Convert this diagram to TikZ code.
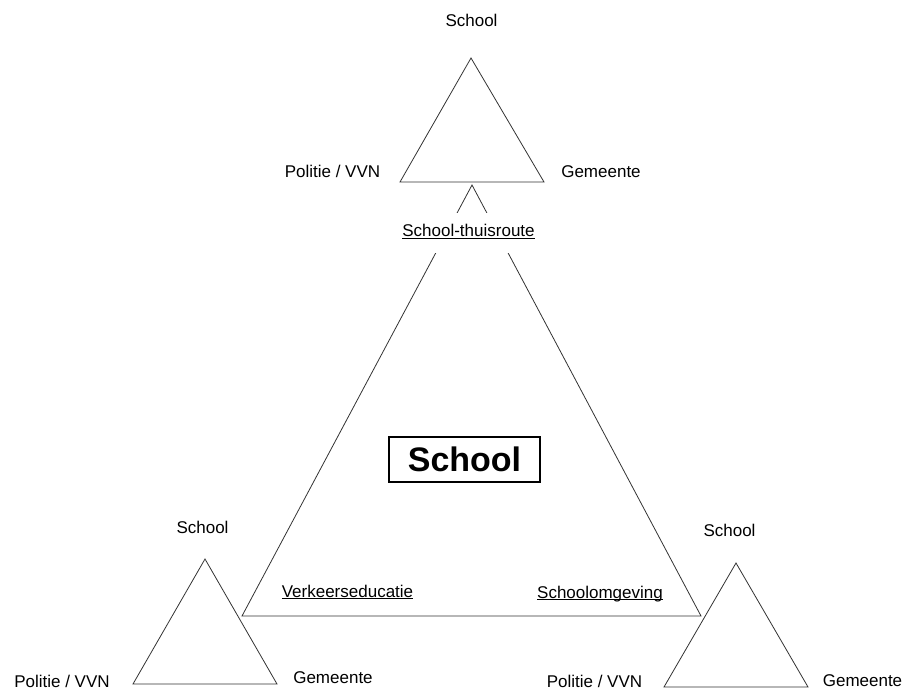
\documentclass[tikz,border=0pt]{standalone}
\usepackage{fontspec}
\setmainfont{Liberation Sans}
\newcommand\ulbl[1]{\setbox0\hbox{#1}\rlap{\rule[-2.3pt]{\wd0}{0.9pt}}\box0}
\begin{document}
\begin{tikzpicture}[x=1pt,y=-1pt,
  edge/.style={draw=black!80,line width=0.8pt,line join=miter},
  lbl/.style={font=\fontsize{17}{17}\selectfont,inner sep=0pt,anchor=base},
  ulabel/.style={font=\fontsize{17}{17}\selectfont,inner sep=0pt,anchor=base}]
\useasboundingbox (0,0) rectangle (909,690);
% small triangles
\coordinate (T1) at (471,58);  \coordinate (T2) at (400,182); \coordinate (T3) at (544,182);
\coordinate (L1) at (205,559); \coordinate (L2) at (133,684); \coordinate (L3) at (277,684);
\coordinate (R1) at (736,563); \coordinate (R2) at (664,687); \coordinate (R3) at (808,687);
% big triangle
\coordinate (A) at (472,185); \coordinate (B) at (242,616); \coordinate (C) at (701,616);
\draw[edge] (T1) -- (T2) -- (T3) -- cycle;
\draw[edge] (L1) -- (L2) -- (L3) -- cycle;
\draw[edge] (R1) -- (R2) -- (R3) -- cycle;
\draw[edge] (A) -- (B) -- (C) -- cycle;
% labels of small triangles
\node[lbl] (ts) at (471.5,27) {School};
\node[lbl] (tp) at (332.5,177) {Politie / VVN};
\node[lbl] (tg) at (601,177) {Gemeente};
\node[lbl] (ls) at (202.5,533) {School};
\node[lbl] (lp) at (62,687.5) {Politie / VVN};
\node[lbl] (lg) at (333,683) {Gemeente};
\node[lbl] (rs) at (729.5,536) {School};
\node[lbl] (rp) at (594.5,687) {Politie / VVN};
\node[lbl] (rg) at (862.5,686) {Gemeente};
% labels of big triangle
\node[fill=white,inner xsep=2pt,minimum height=40pt,text height=12pt,text depth=5pt,
      font=\fontsize{17}{17}\selectfont] (route) at (468.5,233) {\ulbl{School-thuisroute}};
\node[ulabel] (verk) at (347.5,597) {\ulbl{Verkeerseducatie}};
\node[ulabel] (omg) at (600,598) {\ulbl{Schoolomgeving}};
% central box
\node[draw=black,line width=1.2pt,minimum width=151pt,minimum height=45pt,inner sep=0pt,
      font=\bfseries\fontsize{34}{34}\selectfont] (main) at (464.5,459.5) {School};
\end{tikzpicture}
\end{document}
